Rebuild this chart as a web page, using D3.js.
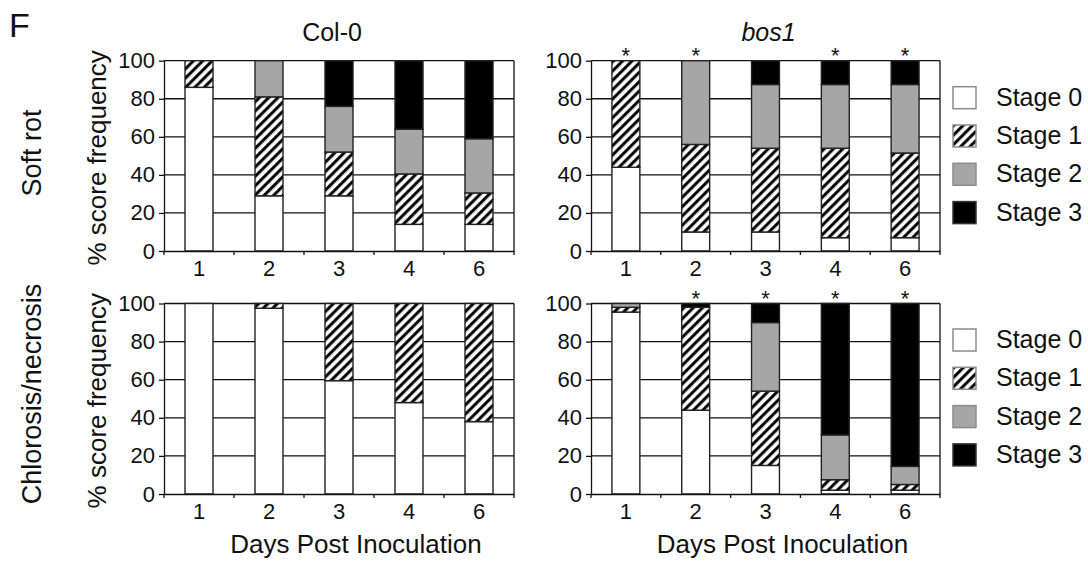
<!DOCTYPE html>
<html>
<head>
<meta charset="utf-8">
<script src="https://cdn.jsdelivr.net/npm/d3@7"></script>
<style>
  html, body { margin: 0; padding: 0; background: #fff; }
  svg { display: block; font-family: "Liberation Sans", Arial, sans-serif; }
</style>
</head>
<body>
<svg id="chart" width="1088" height="561"></svg>
<script>
// ---------- data ----------
const days = ["1", "2", "3", "4", "6"];
const stages = ["Stage 0", "Stage 1", "Stage 2", "Stage 3"];
const yTicks = [0, 20, 40, 60, 80, 100];
const genotypes = ["Col-0", "bos1"];
const symptoms = ["Soft rot", "Chlorosis/necrosis"];

// each row: day, values for Stage 0..3 (% score frequency)
const col0SoftRot = [
  [86, 14, 0, 0],
  [29, 52, 19, 0],
  [29, 23, 24, 24],
  [14, 26.5, 23.5, 36],
  [14, 16.5, 28.5, 41]
];
const bos1SoftRot = [
  [44, 56, 0, 0],
  [10, 46, 44, 0],
  [10, 44, 33.5, 12.5],
  [7, 47, 33.5, 12.5],
  [7, 44.5, 36, 12.5]
];
const col0Chlorosis = [
  [100, 0, 0, 0],
  [97.5, 2.5, 0, 0],
  [59.5, 40.5, 0, 0],
  [48, 52, 0, 0],
  [38, 62, 0, 0]
];
const bos1Chlorosis = [
  [95.5, 2.5, 2, 0],
  [44, 54, 0, 2],
  [15, 39, 36, 10],
  [2, 5.5, 23.5, 69],
  [2, 3, 9.5, 85.5]
];
// significance asterisks (1 = shown)
const bos1SoftRotSig = [1, 1, 0, 1, 1];
const bos1ChlorosisSig = [0, 1, 1, 1, 1];
const col0SoftRotSig = [0, 0, 0, 0, 0];
const col0ChlorosisSig = [0, 0, 0, 0, 0];

// ---------- layout ----------
const svg = d3.select("#chart");
const ink = "#111";
const stageFill = ["#ffffff", "url(#hatch)", "#a6a6a6", "#000000"];

const defs = svg.append("defs");
const pat = defs.append("pattern")
  .attr("id", "hatch")
  .attr("patternUnits", "userSpaceOnUse")
  .attr("width", 6.6).attr("height", 6.6)
  .attr("patternTransform", "rotate(45)");
pat.append("rect").attr("width", 6.6).attr("height", 6.6).attr("fill", "#fff");
pat.append("line").attr("x1", 1.6).attr("x2", 1.6).attr("y1", 0).attr("y2", 6.6)
  .attr("stroke", "#000").attr("stroke-width", 3);

const colX = [[164, 514], [591, 940]];
const rowY = [[251, 60.7], [494, 303.5]];

const panels = [
  { r: 0, c: 0, data: col0SoftRot, sig: col0SoftRotSig },
  { r: 0, c: 1, data: bos1SoftRot, sig: bos1SoftRotSig },
  { r: 1, c: 0, data: col0Chlorosis, sig: col0ChlorosisSig },
  { r: 1, c: 1, data: bos1Chlorosis, sig: bos1ChlorosisSig }
];

panels.forEach(p => {
  const x = d3.scaleBand().domain(days).range(colX[p.c]).paddingInner(0.6).paddingOuter(0.3);
  const y = d3.scaleLinear().domain([0, 100]).range(rowY[p.r]);
  const g = svg.append("g");
  const [x0, x1] = colX[p.c];

  // horizontal grid lines
  g.selectAll("line.grid").data(yTicks.filter(t => t > 0)).join("line")
    .attr("class", "grid")
    .attr("x1", x0).attr("x2", x1)
    .attr("y1", d => y(d)).attr("y2", d => y(d))
    .attr("stroke", ink).attr("stroke-width", 1.3);
  // right border
  g.append("line").attr("x1", x1).attr("x2", x1).attr("y1", y(0)).attr("y2", y(100))
    .attr("stroke", ink).attr("stroke-width", 1.3);

  // stacked bars
  const stacked = d3.stack().keys([0, 1, 2, 3])(p.data);
  stacked.forEach((layer, si) => {
    g.append("g").selectAll("rect").data(layer.map((d, i) => ({ d, day: days[i] })).filter(e => e.d[1] - e.d[0] > 0))
      .join("rect")
      .attr("x", e => x(e.day))
      .attr("width", x.bandwidth())
      .attr("y", e => y(e.d[1]))
      .attr("height", e => y(e.d[0]) - y(e.d[1]))
      .attr("fill", stageFill[si])
      .attr("stroke", "#222").attr("stroke-width", 1.4);
  });

  // y axis
  const ya = g.append("g").attr("transform", `translate(${x0},0)`)
    .call(d3.axisLeft(y).tickValues(yTicks).tickSizeInner(5).tickSizeOuter(0).tickPadding(4));
  ya.select(".domain").attr("stroke", ink).attr("stroke-width", 1.3);
  ya.selectAll(".tick line").attr("stroke", ink).attr("stroke-width", 1.3);
  ya.selectAll("text").attr("font-size", 22).attr("fill", ink)
    .attr("font-family", "Liberation Sans, Arial, sans-serif");

  // x axis
  const xa = g.append("g").attr("transform", `translate(0,${y(0)})`)
    .call(d3.axisBottom(x).tickSize(0).tickPadding(9));
  xa.select(".domain").attr("stroke", ink).attr("stroke-width", 1.3);
  xa.selectAll("text").attr("font-size", 22).attr("fill", ink)
    .attr("font-family", "Liberation Sans, Arial, sans-serif");
  const bounds = days.map(d => x(d) - x.step() * 0.3).concat([x1]);
  xa.selectAll("line.bt").data(bounds).join("line").attr("class", "bt")
    .attr("x1", d => d).attr("x2", d => d).attr("y1", 0).attr("y2", 4)
    .attr("stroke", ink).attr("stroke-width", 1.3);

  // asterisks
  g.selectAll("text.sig").data(days.filter((d, i) => p.sig[i])).join("text")
    .attr("class", "sig")
    .attr("x", d => x(d) + x.bandwidth() / 2)
    .attr("y", y(100) + 2)
    .attr("text-anchor", "middle")
    .attr("font-size", 22).attr("fill", ink)
    .text("*");

  // y title for left column
  if (p.c === 0) {
    svg.append("text")
      .attr("transform", `translate(106,${(y(0) + y(100)) / 2 + 2}) rotate(-90)`)
      .attr("text-anchor", "middle").attr("font-size", 26).attr("fill", ink)
      .text("% score frequency");
  }
  // x title for bottom row
  if (p.r === 1) {
    svg.append("text")
      .attr("x", (x0 + x1) / 2 + 17).attr("y", 553)
      .attr("text-anchor", "middle").attr("font-size", 26).attr("fill", ink)
      .text("Days Post Inoculation");
  }
  // column titles
  if (p.r === 0) {
    svg.append("text")
      .attr("x", (x0 + x1) / 2 + (p.c === 0 ? -7 : 3)).attr("y", 41)
      .attr("text-anchor", "middle").attr("font-size", 25).attr("fill", ink)
      .attr("font-style", p.c === 1 ? "italic" : "normal")
      .text(genotypes[p.c]);
  }
  // legend for right column
  if (p.c === 1) {
    const top = p.r === 0 ? 86.7 : 329;
    const lg = svg.append("g").attr("transform", `translate(953,${top})`);
    stages.forEach((s, i) => {
      lg.append("rect").attr("x", 0).attr("y", i * 38.3).attr("width", 23).attr("height", 22)
        .attr("fill", stageFill[i]).attr("stroke", i === 3 ? "#333" : "#8c8c8c").attr("stroke-width", 1.5);
      lg.append("text").attr("x", 43).attr("y", i * 38.3 + 19)
        .attr("font-size", 25).attr("fill", ink).text(s);
    });
  }
});

// row labels
svg.append("text").attr("transform", "translate(41,153) rotate(-90)")
  .attr("text-anchor", "middle").attr("font-size", 27).attr("fill", ink).text(symptoms[0]);
svg.append("text").attr("transform", "translate(41,394) rotate(-90)")
  .attr("text-anchor", "middle").attr("font-size", 27).attr("fill", ink).text(symptoms[1]);

// panel letter
svg.append("text").attr("x", 9).attr("y", 37).attr("font-size", 34).attr("fill", ink).text("F");
</script>
</body>
</html>
